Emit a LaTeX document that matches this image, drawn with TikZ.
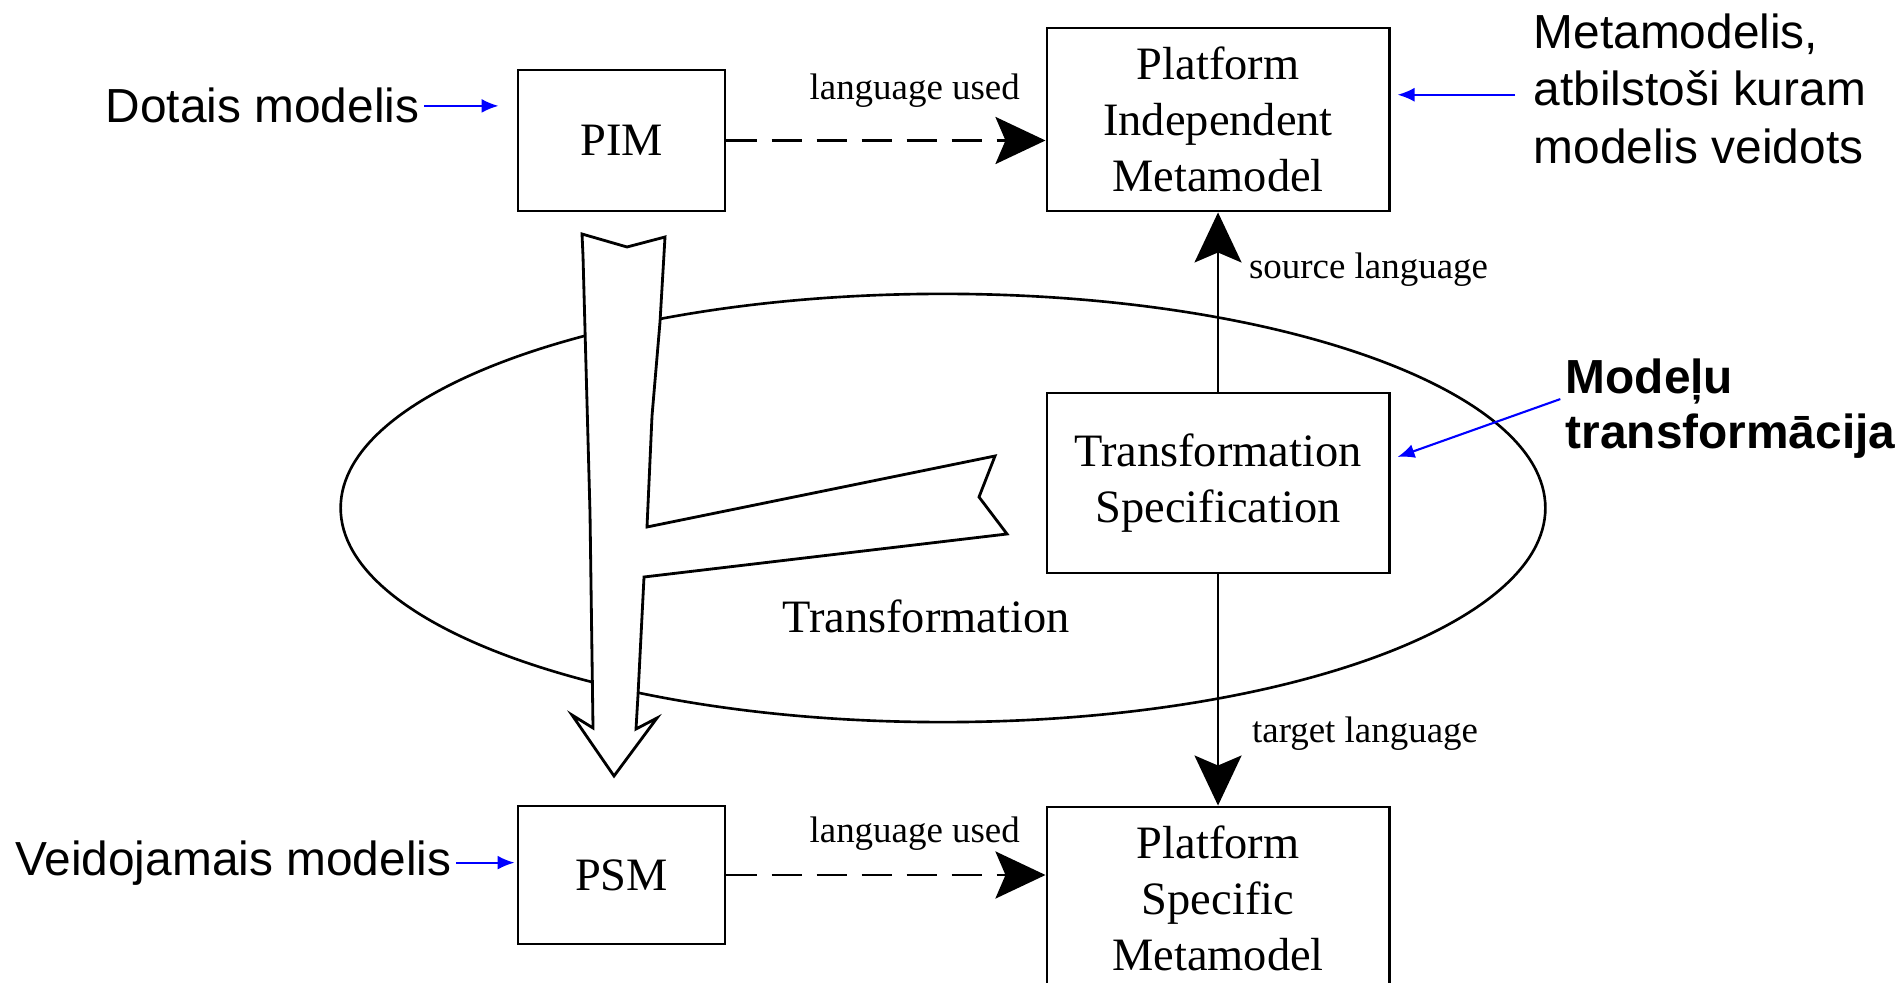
\documentclass[tikz,border=0pt]{standalone}
\usepackage{fontspec}
\setmainfont{Liberation Serif}
\newfontfamily\notefont{Liberation Sans}
\usetikzlibrary{arrows.meta}

\begin{document}
\begin{tikzpicture}[x=0.01cm, y=-0.01cm,
    box/.style={draw, line width=0.8pt, align=center, inner sep=0pt, font=\fontsize{13.2}{15.9}\selectfont},
    lbl/.style={inner sep=0pt, font=\fontsize{10.5}{12.6}\selectfont},
    note/.style={inner sep=0pt, align=left, font=\notefont\fontsize{13.6}{16.35}\selectfont},
    link/.style={line width=0.6pt, -{Stealth[length=0.5cm, width=0.47cm, inset=0.1cm]}},
    uses/.style={link, line width=0.85pt, dash pattern=on 0.3cm off 0.15cm},
    pointer/.style={blue, line width=0.6pt, -{Latex[length=0.17cm, width=0.14cm]}}]
    \useasboundingbox (0,0) rectangle (1898,983);
    \clip (0,0) rectangle (1898,983);

    % Transformation ellipse
    \draw[line width=0.75pt] (943,508) ellipse [x radius=6.02cm, y radius=2.14cm];
    \node[box, draw=none] (trlabel) at (926,616) {Transformation};

    % Draw nodes
    \node[box, minimum width=2.07cm, minimum height=1.41cm] (pim) at (621.5,140.5) {PIM};
    \node[box, minimum width=2.07cm, minimum height=1.38cm] (psm) at (621.5,875) {PSM};
    \node[box, minimum width=3.42cm, minimum height=1.83cm] (pimmeta) at (1218,119.5) {Platform\\Independent\\Metamodel};
    \node[box, minimum width=3.42cm, minimum height=1.80cm] (spec) at (1218,483) {Transformation\\Specification};
    \node[box, minimum width=3.42cm, minimum height=1.83cm] (psmmeta) at (1218,898.5) {Platform\\Specific\\Metamodel};

    % Hollow transformation arrow
    \draw[line width=0.8pt, fill=white]
        (582,234) -- (627,247) -- (665,237) -- (660,322) -- (652,416) -- (647,527)
        -- (995,456) -- (979,497) -- (1007,534) -- (644,577) -- (638,695) -- (636,729)
        -- (657,718) -- (614,776) -- (572,715) -- (593,728) -- (590,513) -- (583,256) -- cycle;

    % Draw connections
    \draw[uses] (pim.east) -- (pim.east -| pimmeta.west)
        node[lbl, pos=0.59, above=0.32cm] (pimlang) {language used};
    \draw[uses] (psm.east) -- (psm.east -| psmmeta.west)
        node[lbl, pos=0.59, above=0.23cm] (psmlang) {language used};
    \draw[link] (spec) -- (pimmeta)
        node[lbl, pos=0.68, right=0.3cm] (srclang) {source language};
    \draw[link] (spec) -- (psmmeta)
        node[lbl, pos=0.69, right=0.33cm] (tgtlang) {target language};

    % Labels
    \node[note, anchor=base east] (dotais) at (420,123) {Dotais modelis};
    \node[note, anchor=base east] (veido) at (452,875) {Veidojamais modelis};
    \node[note, anchor=north west] (metanote) at (1533,13) {Metamodelis,\\atbilstoši kuram\\modelis veidots};
    \node[note, anchor=north west, font=\notefont\bfseries\fontsize{13.6}{15.6}\selectfont] (modelu) at (1565,358) {Modeļu\\transformācija};

    \draw[pointer, shorten <=0.04cm, shorten >=0.18cm] (dotais.east) -- (dotais.east -| pim.west);
    \draw[pointer, shorten <=0.04cm, shorten >=0.02cm] (veido.east) -- (veido.east -| psm.west);
    \draw[pointer, shorten <=0.18cm, shorten >=0.07cm] ([yshift=-0.06cm]metanote.west) -- ([yshift=-0.06cm]metanote.west -| pimmeta.east);
    \draw[pointer, shorten <=0.05cm] ([yshift=0.11cm]modelu.west) -- ([xshift=0.07cm, yshift=0.26cm]spec.east);
\end{tikzpicture}
\end{document}
